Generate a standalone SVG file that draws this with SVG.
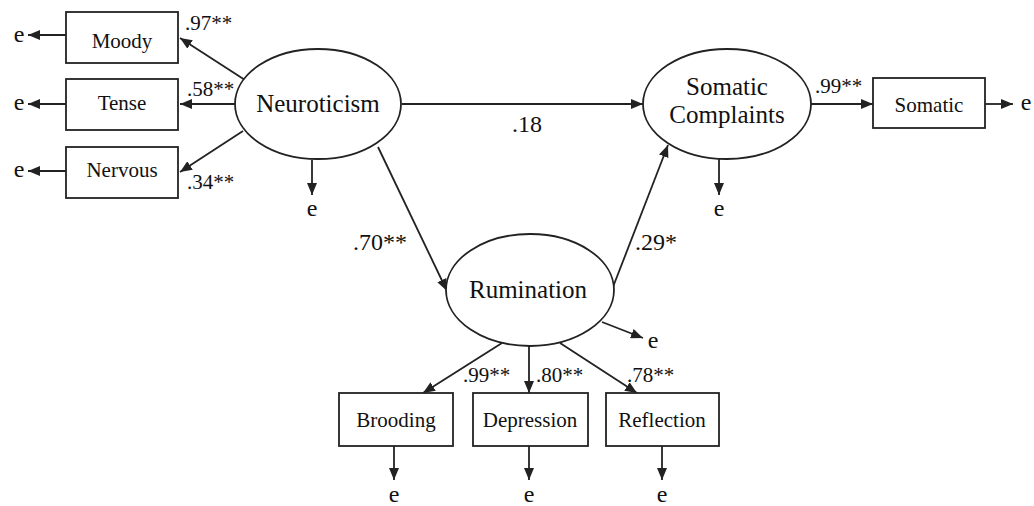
<svg xmlns="http://www.w3.org/2000/svg" width="1034" height="506" viewBox="0 0 1034 506" font-family="'Liberation Serif', 'Times New Roman', serif">
<style>
.box{fill:#fff;stroke:#222;stroke-width:1.8}
.ell{fill:#fff;stroke:#222;stroke-width:1.8}
.ln{stroke:#222;stroke-width:1.8;fill:none;marker-end:url(#ah)}
.bt{font-family:'Liberation Serif',serif;font-size:21px;text-anchor:middle;fill:#111}
.et{font-family:'Liberation Serif',serif;font-size:25px;text-anchor:middle;fill:#111}
.ld{font-family:'Liberation Serif',serif;font-size:21px;fill:#111}
.pc{font-family:'Liberation Serif',serif;font-size:24px;fill:#111}
.e{font-family:'Liberation Serif',serif;font-size:24px;text-anchor:middle;fill:#111}
</style>
<defs>
<marker id="ah" viewBox="0 0 12 10" refX="12" refY="5" markerWidth="12" markerHeight="10" markerUnits="userSpaceOnUse" orient="auto">
<path d="M0,0 L12,5 L0,10 z" fill="#222"/>
</marker>
</defs>
<rect width="1034" height="506" fill="#fff"/>
<g id="connectors">
<line class="ln" x1="245" y1="80" x2="180" y2="38"/>
<line class="ln" x1="235" y1="104" x2="180" y2="104"/>
<line class="ln" x1="243" y1="131" x2="180" y2="172"/>
<line class="ln" x1="66" y1="35" x2="28" y2="35"/>
<line class="ln" x1="66" y1="104" x2="28" y2="104"/>
<line class="ln" x1="66" y1="171" x2="28" y2="171"/>
<line class="ln" x1="312" y1="160" x2="312" y2="195"/>
<line class="ln" x1="402" y1="104" x2="643" y2="104"/>
<line class="ln" x1="378" y1="147" x2="447" y2="291"/>
<line class="ln" x1="613" y1="287" x2="668" y2="145"/>
<line class="ln" x1="810" y1="104" x2="873" y2="104"/>
<line class="ln" x1="985" y1="104" x2="1013" y2="104"/>
<line class="ln" x1="719" y1="159" x2="719" y2="195"/>
<line class="ln" x1="602" y1="322" x2="643" y2="338"/>
<line class="ln" x1="502" y1="343" x2="423" y2="393"/>
<line class="ln" x1="529" y1="346" x2="529" y2="393"/>
<line class="ln" x1="560" y1="343" x2="637" y2="393"/>
<line class="ln" x1="394" y1="446" x2="394" y2="480"/>
<line class="ln" x1="529" y1="446" x2="529" y2="480"/>
<line class="ln" x1="662" y1="446" x2="662" y2="480"/>
</g>
<g id="labels">
<text class="ld" x="185" y="30">.97**</text>
<text class="ld" x="187" y="96">.58**</text>
<text class="ld" x="187" y="189">.34**</text>
<text class="pc" x="527" y="132" text-anchor="middle">.18</text>
<text class="pc" x="353" y="250">.70**</text>
<text class="pc" x="635" y="250">.29*</text>
<text class="ld" x="815" y="93">.99**</text>
<text class="ld" x="463" y="382">.99**</text>
<text class="ld" x="536" y="382">.80**</text>
<text class="ld" x="627" y="382">.78**</text>
</g>
<g id="errors">
<text class="e" x="19" y="42">e</text>
<text class="e" x="19" y="110">e</text>
<text class="e" x="19" y="177">e</text>
<text class="e" x="312" y="216">e</text>
<text class="e" x="719" y="216">e</text>
<text class="e" x="1026" y="110">e</text>
<text class="e" x="653" y="348">e</text>
<text class="e" x="394" y="502">e</text>
<text class="e" x="529" y="502">e</text>
<text class="e" x="662" y="502">e</text>
</g>
<g id="moody"><rect class="box" x="66" y="12" width="112" height="51"/><text class="bt" x="122" y="48">Moody</text></g>
<g id="tense"><rect class="box" x="66" y="79" width="112" height="51"/><text class="bt" x="122" y="110">Tense</text></g>
<g id="nervous"><rect class="box" x="66" y="147" width="112" height="51"/><text class="bt" x="122" y="177">Nervous</text></g>
<g id="neuroticism"><ellipse class="ell" cx="318" cy="104" rx="83" ry="55"/><text class="et" x="318" y="112">Neuroticism</text></g>
<g id="somatic-complaints"><ellipse class="ell" cx="727" cy="104" rx="84" ry="55"/><text class="et" x="727" y="95">Somatic</text><text class="et" x="727" y="123">Complaints</text></g>
<g id="somatic"><rect class="box" x="873" y="78" width="112" height="50"/><text class="bt" x="929" y="112">Somatic</text></g>
<g id="rumination"><ellipse class="ell" cx="530" cy="290" rx="84" ry="56"/><text class="et" x="528" y="298">Rumination</text></g>
<g id="brooding"><rect class="box" x="339" y="393" width="114" height="53"/><text class="bt" x="396" y="427">Brooding</text></g>
<g id="depression"><rect class="box" x="473" y="393" width="115" height="53"/><text class="bt" x="530" y="427">Depression</text></g>
<g id="reflection"><rect class="box" x="606" y="393" width="113" height="53"/><text class="bt" x="662" y="427">Reflection</text></g>
</svg>
